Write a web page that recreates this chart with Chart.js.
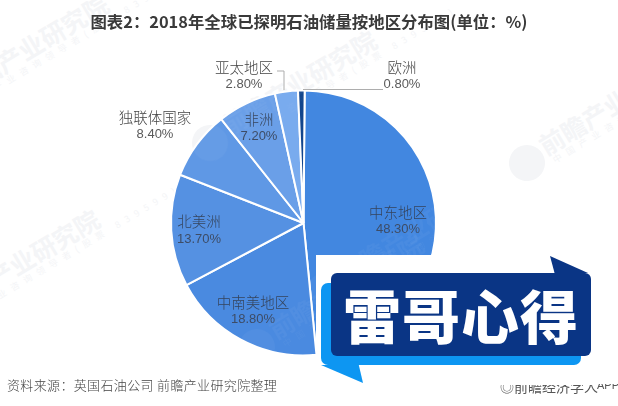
<!DOCTYPE html>
<html>
<head>
<meta charset="utf-8">
<script src="https://cdn.jsdelivr.net/npm/chart.js@4/dist/chart.umd.min.js"></script>
<style>
	html, body { margin: 0; padding: 0; background: #fff; }
	#page { position: relative; width: 618px; height: 406px; overflow: hidden; font-family: "Noto Sans CJK SC", sans-serif; }
	#page > * { position: absolute; }
	canvas { left: 0; top: 0; }
	#title { left: 0; width: 618px; top: 9px; text-align: center; font-size: 16.4px; line-height: 24px; font-weight: 700; color: #3a3a3a; white-space: nowrap; }
	#source { left: 7px; top: 376px; font-size: 13px; line-height: 18px; letter-spacing: .35px; color: #444; white-space: nowrap; font-weight: 300; }
	#brand { left: 500px; top: 376px; font-size: 14px; line-height: 20px; color: #555; white-space: nowrap; }
	#brand span { clip-path: inset(9px 0 0 0); display: inline-block; }
	#brand b { font: 11px "Liberation Sans", sans-serif; position: absolute; left: 97px; top: 3px; }
	.wm { left: 0; top: 0; transform-origin: 0 0; white-space: nowrap; font-weight: 700; font-size: 25px; line-height: 30px; }
	.wm i { position: absolute; left: -18px; top: -18px; width: 36px; height: 36px; border-radius: 50%; background: currentColor; }
	.wm span { position: absolute; left: 20px; top: -22px; }
	.wm small { position: absolute; left: 24px; top: 6px; font-size: 9px; line-height: 12px; letter-spacing: 6px; font-weight: 400; }
	#sticker { left: 316px; top: 255px; width: 302px; height: 129px; background: #fff; }
	#sticker div { position: absolute; }
	#shade { left: 5px; top: 28px; width: 260px; height: 82px; background: #0d96f2; border-radius: 7px; }
	#shadeTip { left: 5px; top: 110px; width: 42px; height: 18px; background: #0d96f2; clip-path: polygon(0 0, 90% 0, 100% 100%); }
	#panel { left: 15px; top: 18px; width: 260px; height: 83px; background: #0a3585; border-radius: 6px; }
	#panelTip { left: 234px; top: 1px; width: 38px; height: 17px; background: #0a3585; clip-path: polygon(0 0, 100% 100%, 12% 100%); }
	#stickerText { left: 15px; top: 18px; width: 260px; height: 83px; text-align: center; color: #fff; font-size: 58px; line-height: 82px; font-weight: 900; white-space: nowrap; letter-spacing: 1px; }
</style>
</head>
<body>
<div id="page">
	<div id="back"></div>
	<canvas id="pie" width="618" height="406"></canvas>
	<div id="front"></div>
	<div id="title">图表2：2018年全球已探明石油储量按地区分布图(单位：%)</div>
	<div id="source">资料来源：英国石油公司 前瞻产业研究院整理</div>
	<div id="brand"><span>◎前瞻经济学人</span><b>APP</b></div>
	<div id="sticker">
		<div id="shade"></div>
		<div id="shadeTip"></div>
		<div id="panel"></div>
		<div id="panelTip"></div>
		<div id="stickerText">雷哥心得</div>
	</div>
</div>
<script>
const regions = ['中东地区', '中南美地区', '北美洲', '独联体国家', '非洲', '亚太地区', '欧洲'];
const shares = [48.3, 18.8, 13.7, 8.4, 7.2, 2.8, 0.8];
const sliceColors = ['#4287e0', '#4a8ae0', '#5591e2', '#5f98e5', '#6a9fe8', '#79abee', '#12458c'];

// where each label sits in the picture: centre x, name y, value y
const labelSpots = [
	[398, 212, 229],
	[253, 302, 319],
	[199, 221, 239],
	[155, 117, 134],
	[259, 119, 136],
	[244, 67, 84],
	[402, 67, 84],
];
const onPie = [true, true, true, false, true, false, false];

// leader lines for the two thin slices
const leaders = [
	[[277, 71], [284, 71], [284, 90]],
	[[383, 89.5], [303, 89.5]],
];

const pieLabels = {
	id: 'pieLabels',
	afterDatasetsDraw(chart) {
		const ctx = chart.ctx;
		ctx.save();
		ctx.strokeStyle = '#adadad';
		ctx.lineWidth = 1;
		leaders.forEach(line => {
			ctx.beginPath();
			line.forEach((p, i) => i ? ctx.lineTo(p[0], p[1]) : ctx.moveTo(p[0], p[1]));
			ctx.stroke();
		});
		ctx.textAlign = 'center';
		ctx.textBaseline = 'middle';
		regions.forEach((name, i) => {
			const spot = labelSpots[i];
			ctx.fillStyle = onPie[i] ? '#35445c' : '#444';
			ctx.font = '300 14.5px "Noto Sans CJK SC"';
			ctx.fillText(name, spot[0], spot[1]);
			ctx.font = '13px "Liberation Sans"';
			ctx.fillStyle = onPie[i] ? '#3d4c66' : '#5a5a5a';
			ctx.fillText(shares[i].toFixed(2) + '%', spot[0], spot[2]);
		});
		ctx.restore();
	},
};

new Chart(document.getElementById('pie'), {
	type: 'pie',
	data: {
		labels: regions,
		datasets: [{
			data: shares,
			backgroundColor: sliceColors,
			borderColor: '#fff',
			borderWidth: 2,
		}],
	},
	options: {
		responsive: false,
		animation: false,
		rotation: 0.5,
		layout: { padding: { left: 170, right: 181, top: 89.5, bottom: 49.5 } },
		plugins: { legend: { display: false }, tooltip: { enabled: false } },
	},
	plugins: [pieLabels],
});

// faint company watermarks
function addMark(parent, x, y, color) {
	const el = document.createElement('div');
	el.className = 'wm';
	el.style.position = 'absolute';
	el.style.color = color;
	el.style.transform = `translate(${x}px, ${y}px) rotate(-31deg)`;
	el.innerHTML = '<i></i><span>前瞻产业研究院</span><small>中国产业咨询领导者(股票 839599)</small>';
	parent.appendChild(el);
}
const back = document.getElementById('back');
const front = document.getElementById('front');
[[527, 163], [-58, 107], [-67, 322], [210, 143]].forEach(p => addMark(back, p[0], p[1], '#f4f5f7'));
[[210, 143], [257, 347], [326, 290]].forEach(p => addMark(front, p[0], p[1], 'rgba(255,255,255,.04)'));
</script>
</body>
</html>
